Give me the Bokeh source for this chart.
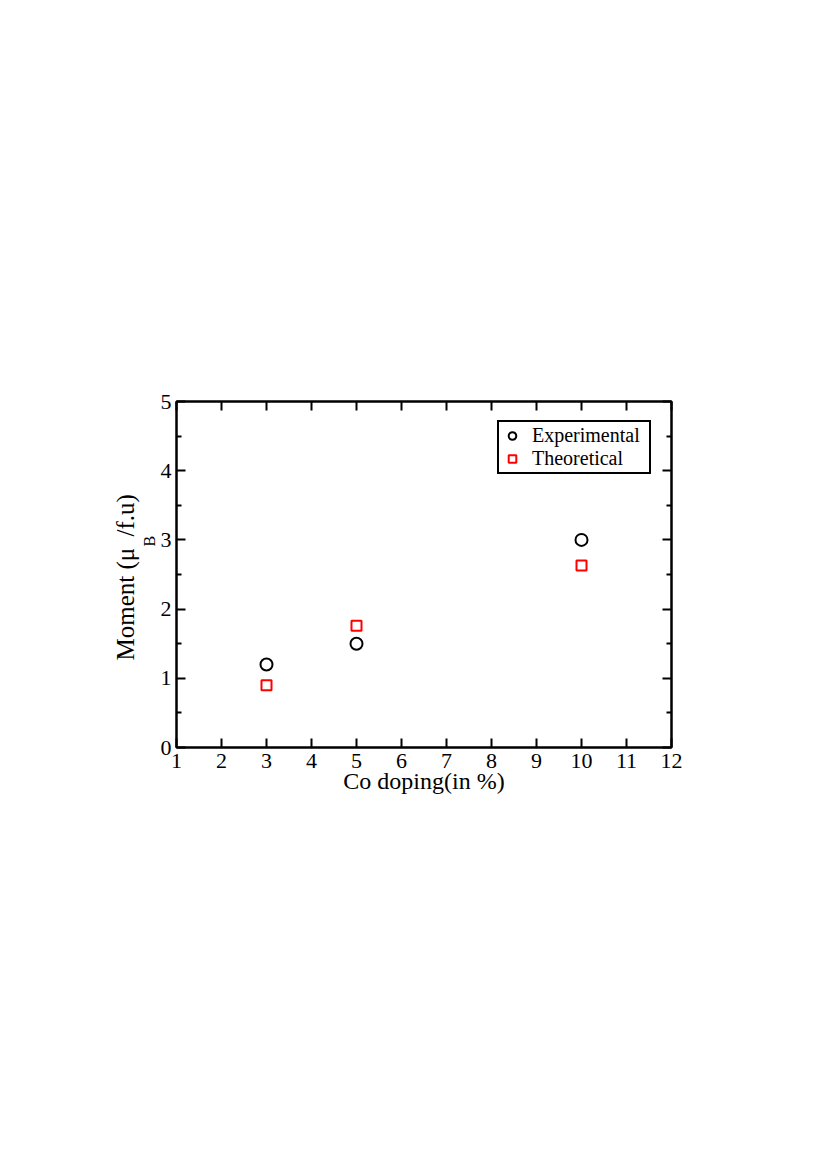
from bokeh.plotting import figure
from bokeh.models import (Range1d, LinearAxis, Legend, LegendItem, Title,
                          FixedTicker, CustomJSTickFormatter)
from bokeh.embed import file_html
from bokeh.resources import INLINE

# ---- data ----
doping = [3, 5, 10]
experimental = [1.2, 1.5, 3.0]
theoretical = [0.9, 1.76, 2.63]
x_ticks = [1, 2, 3, 4, 5, 6, 7, 8, 9, 10, 11, 12]
y_ticks = [0, 1, 2, 3, 4, 5]
y_minor = [0.5, 1.5, 2.5, 3.5, 4.5]
y_label_main = "Moment (μ \u2009/f.u)"
y_label_sub = "B"

FONT = "Liberation Serif"
BL, BT, FW, FH, BR, BB = 176, 401, 495, 346, 30, 100

p = figure(frame_width=FW, frame_height=FH,
           min_border_left=BL, min_border_top=BT,
           min_border_right=BR, min_border_bottom=BB,
           x_range=Range1d(1, 12), y_range=Range1d(0, 5),
           output_backend="svg", toolbar_location=None,
           background_fill_color="white", border_fill_color="white")
p.grid.visible = False
p.outline_line_color = "black"
p.outline_line_width = 2


def style(ax, ticker, labels=True):
    ax.ticker = ticker
    ax.axis_line_width = 2
    ax.axis_line_color = "black"
    ax.major_tick_in = 9
    ax.major_tick_out = 0
    ax.minor_tick_in = 5
    ax.minor_tick_out = 0
    ax.major_tick_line_width = 2
    ax.minor_tick_line_width = 2
    ax.major_tick_line_color = "black"
    ax.minor_tick_line_color = "black"
    ax.major_label_text_font = FONT
    ax.major_label_text_font_size = "22px"
    ax.major_label_text_color = "black"
    if not labels:
        ax.formatter = CustomJSTickFormatter(code="return ''")
        ax.major_label_text_font_size = "0px"


style(p.xaxis[0], FixedTicker(ticks=x_ticks, minor_ticks=[]))
style(p.yaxis[0], FixedTicker(ticks=y_ticks, minor_ticks=y_minor))
p.xaxis[0].major_label_standoff = 6
p.yaxis[0].major_label_standoff = 5
p.xaxis[0].axis_label = "Co doping(in %)"
p.xaxis[0].axis_label_text_font = FONT
p.xaxis[0].axis_label_text_font_size = "24px"
p.xaxis[0].axis_label_text_font_style = "normal"
p.xaxis[0].axis_label_text_color = "black"
p.xaxis[0].axis_label_standoff = -3

top = LinearAxis()
style(top, FixedTicker(ticks=x_ticks, minor_ticks=[]), labels=False)
p.add_layout(top, "above")
right = LinearAxis()
style(right, FixedTicker(ticks=y_ticks, minor_ticks=y_minor), labels=False)
p.add_layout(right, "right")

# y-axis label: subscript "B" next to the axis, main text outside it
p.add_layout(Title(text=y_label_sub, align="left", offset=201,
                   text_font=FONT, text_font_size="16px", text_font_style="normal",
                   text_color="black", standoff=0, vertical_align="bottom",
                   text_line_height=0.6), "left")
p.add_layout(Title(text=y_label_main, align="left", offset=87,
                   text_font=FONT, text_font_size="25px", text_font_style="normal",
                   text_color="black", standoff=0, vertical_align="bottom"), "left")

r1 = p.scatter(doping, experimental, marker="circle", size=12,
               fill_color=None, line_color="black", line_width=2)
r2 = p.scatter(doping, theoretical, marker="square", size=10,
               fill_color="white", line_color="red", line_width=2)

legend = Legend(items=[LegendItem(label="Experimental", renderers=[r1]),
                       LegendItem(label="Theoretical", renderers=[r2])],
                location=(321, 273), orientation="vertical",
                label_text_font=FONT, label_text_font_size="20px",
                label_text_color="black", label_text_line_height=0.9,
                padding=2, spacing=0, margin=0,
                label_height=19, glyph_height=19, glyph_width=22,
                label_standoff=9, label_width=115,
                border_line_color="black", border_line_width=2,
                border_line_alpha=1,
                background_fill_color="white", background_fill_alpha=1)
p.add_layout(legend, "center")

open("out.html", "w").write(file_html(p, INLINE))
